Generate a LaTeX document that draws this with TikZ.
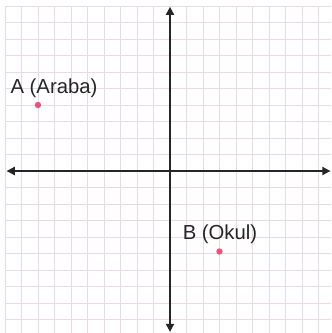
\documentclass[tikz,border=0pt]{standalone}
\usepackage{fontspec}
\setmainfont{Liberation Sans}
\usetikzlibrary{arrows.meta}
\definecolor{mygrid}{RGB}{234,218,232}
\definecolor{mypink}{RGB}{232,84,122}
\colorlet{myink}{black!85}
\begin{document}
\begin{tikzpicture}[
    x=0.5cm, y=0.5cm,
    gridline/.style={draw=mygrid, line width=0.7pt, step=0.5cm},
    axis/.style={draw=myink, line width=1.6pt, {Triangle[length=7pt,width=7pt]}-{Triangle[length=7pt,width=7pt]}},
    spot/.style={circle, fill=mypink, inner sep=0pt, minimum size=5.5pt},
    caption/.style={anchor=base, inner sep=0pt, text=myink, font=\fontsize{17.5}{19}\selectfont},
  ]
  \useasboundingbox[fill=white] (-10.303,-9.818) rectangle (9.758,10.364);

  % ------------------------------------------------------------------ grid
  \draw[gridline] (-10,-9.818) grid (9.758,10);

  % ------------------------------------------------------------------ axes
  \coordinate (xl) at (-9.9,0);
  \coordinate (xr) at (9.72,0);
  \coordinate (yt) at (0,9.95);
  \coordinate (yb) at (0,-9.75);
  \draw[axis] (xl) -- (xr);
  \draw[axis] (yb) -- (yt);

  % ------------------------------------------------------------------ points
  \node[spot] (a) at (-8,4) {};
  \node[spot] (b) at (3,-4.88) {};
  \node[caption] (a-label) at (-7.03,4.71) {A (Araba)};
  \node[caption] (b-label) at (3.03,-4.18) {B (Okul)};

\end{tikzpicture}
\end{document}
